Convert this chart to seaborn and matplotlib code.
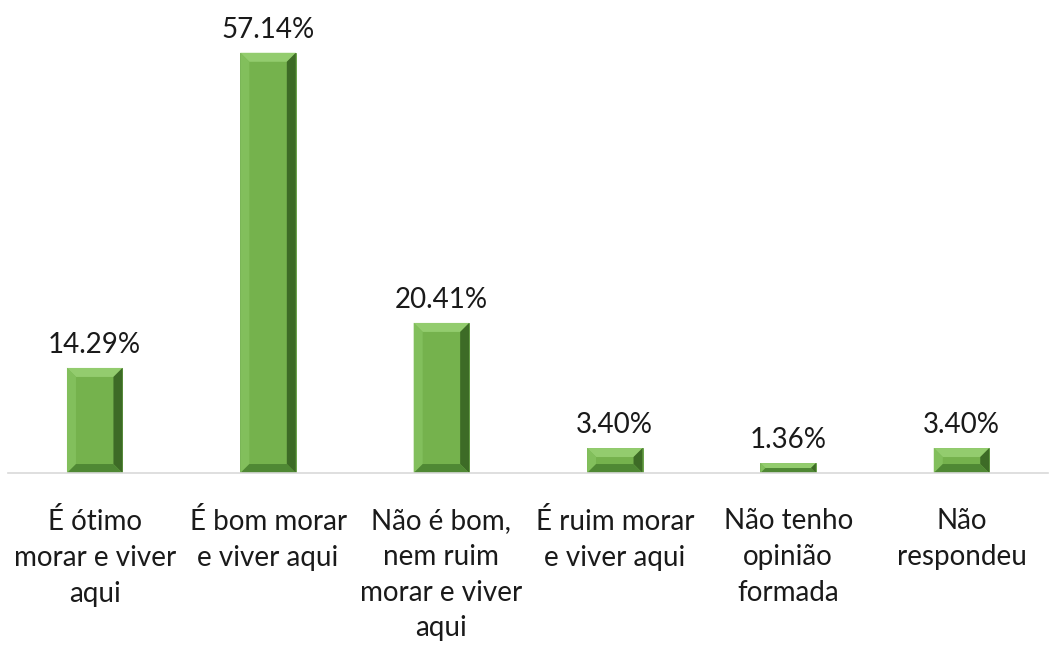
import matplotlib
matplotlib.use("Agg")
import matplotlib.pyplot as plt
from matplotlib.patches import Polygon
import seaborn as sns
import pandas as pd

categories = [
    "É ótimo\nmorar e viver\naqui",
    "É bom morar\ne viver aqui",
    "Não é bom,\nnem ruim\nmorar e viver\naqui",
    "É ruim morar\ne viver aqui",
    "Não tenho\nopinião\nformada",
    "Não\nrespondeu",
]
percentages = [14.29, 57.14, 20.41, 3.40, 1.36, 3.40]

FACE = "#75b24d"
TOP = "#93cc6e"
LEFT = "#82bf5c"
RIGHT = "#3d6b26"
BOTTOM = "#4f8834"

sns.set_theme(style="white")
plt.rcParams["font.family"] = ["Lato", "DejaVu Sans"]

df = pd.DataFrame({"cat": categories, "pct": percentages})

fig = plt.figure(figsize=(10.56, 6.48), dpi=100)
ax = fig.add_axes([0.0076, 0.27, 0.985, 0.681])
sns.barplot(data=df, x="cat", y="pct", color=FACE, saturation=1, width=0.32, ax=ax)
ax.set_ylim(0, 60)

# bevel effect built from each bar's own geometry
fig.canvas.draw()
to_px = ax.transData
inv = ax.transData.inverted()
for patch in ax.patches:
    x0, y0 = patch.get_x(), patch.get_y()
    x1, y1 = x0 + patch.get_width(), y0 + patch.get_height()
    (px0, py0) = to_px.transform((x0, y0))
    (px1, py1) = to_px.transform((x1, y1))
    b = min(9.0, (py1 - py0) / 2.0, (px1 - px0) / 2.0)
    (ix0, iy0) = inv.transform((px0 + b, py0 + b))
    (ix1, iy1) = inv.transform((px1 - b, py1 - b))
    quads = [
        ([(x0, y1), (x1, y1), (ix1, iy1), (ix0, iy1)], TOP),
        ([(x0, y0), (x0, y1), (ix0, iy1), (ix0, iy0)], LEFT),
        ([(x1, y0), (x1, y1), (ix1, iy1), (ix1, iy0)], RIGHT),
        ([(x0, y0), (x1, y0), (ix1, iy0), (ix0, iy0)], BOTTOM),
    ]
    for pts, col in quads:
        ax.add_patch(Polygon(pts, closed=True, facecolor=col, edgecolor="none"))
    patch.set_edgecolor("#5e9a3c")
    patch.set_linewidth(0.6)
    ax.text(x0 + patch.get_width() / 2, y1 + 1.3, f"{y1:.2f}%",
            ha="center", va="bottom", fontsize=20, color="#1a1a1a", clip_on=False)

for side in ["top", "left", "right"]:
    ax.spines[side].set_visible(False)
ax.spines["bottom"].set_color("#d9d9d9")
ax.spines["bottom"].set_linewidth(1.2)
ax.set_yticks([])
ax.set_xlabel("")
ax.set_ylabel("")
ax.tick_params(axis="x", length=0, pad=25, labelsize=20, labelcolor="#1a1a1a")
for lbl in ax.get_xticklabels():
    lbl.set_linespacing(1.47)

fig.savefig("out.png", dpi=100)
